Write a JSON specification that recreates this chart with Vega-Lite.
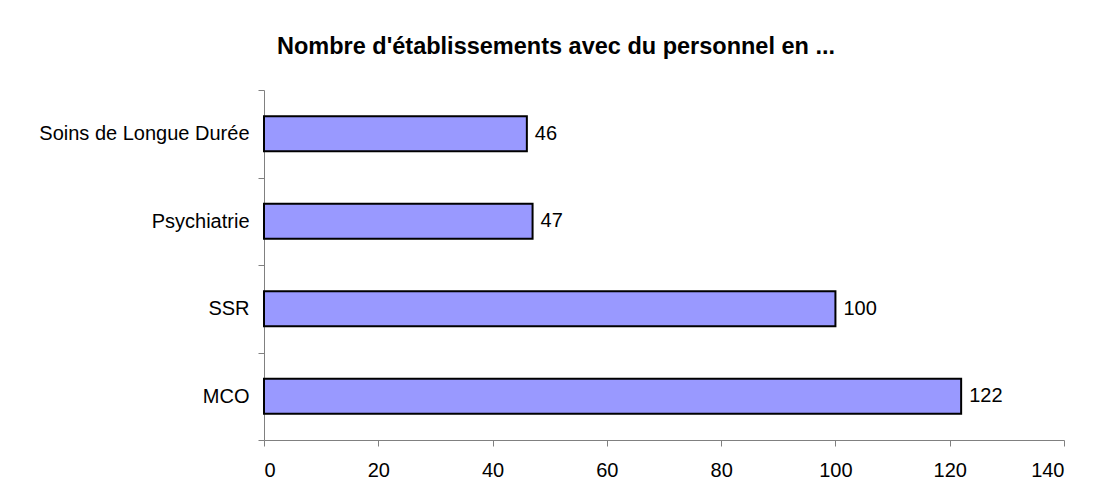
{
  "$schema": "https://vega.github.io/schema/vega-lite/v6.json",
  "width": 800,
  "height": 350,
  "autosize": {"type": "none"},
  "padding": {"left": 264, "top": 90, "right": 31, "bottom": 62},
  "background": "white",
  "title": {
    "text": "Nombre d'établissements avec du personnel en ...",
    "anchor": "middle",
    "frame": "group",
    "dx": -108,
    "offset": 22,
    "font": "Liberation Sans",
    "fontSize": 23.5,
    "fontWeight": "bold",
    "color": "black"
  },
  "data": {
    "values": [
      {"cat": "Soins de Longue Durée", "value": 46},
      {"cat": "Psychiatrie", "value": 47},
      {"cat": "SSR", "value": 100},
      {"cat": "MCO", "value": 122}
    ]
  },
  "config": {
    "view": {"stroke": null},
    "axis": {
      "labelFont": "Liberation Sans",
      "labelFontSize": 20,
      "labelColor": "black",
      "labelLimit": 400,
      "domainColor": "#808080",
      "tickColor": "#808080",
      "grid": false
    }
  },
  "encoding": {
    "y": {
      "field": "cat",
      "type": "nominal",
      "sort": null,
      "title": null,
      "scale": {"paddingInner": 0, "paddingOuter": 0},
      "axis": {"tickBand": "extent", "tickSize": 6, "labelPadding": 9}
    },
    "x": {
      "field": "value",
      "type": "quantitative",
      "title": null,
      "scale": {"domain": [0, 140], "nice": false},
      "axis": {"values": [0, 20, 40, 60, 80, 100, 120, 140], "tickSize": 6, "labelPadding": 14}
    }
  },
  "layer": [
    {
      "mark": {"type": "bar", "color": "#9999FF", "stroke": "black", "strokeWidth": 2, "height": {"band": 0.4}}
    },
    {
      "mark": {"type": "text", "align": "left", "baseline": "middle", "dx": 8, "font": "Liberation Sans", "fontSize": 20, "color": "black"},
      "encoding": {"text": {"field": "value", "type": "quantitative"}}
    }
  ]
}
